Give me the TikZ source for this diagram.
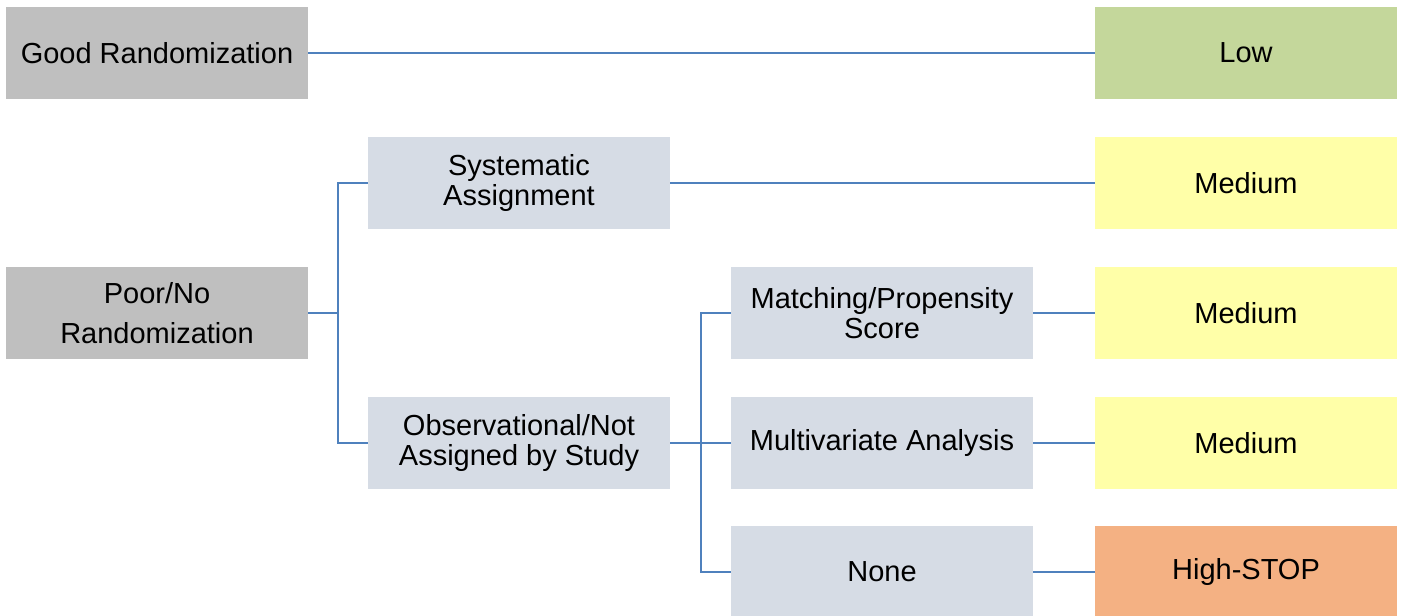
\documentclass[tikz,border=0pt]{standalone}
\usepackage{fontspec}
\setmainfont{Liberation Sans}
\definecolor{boxGray}{HTML}{BFBFBF}
\definecolor{boxBlue}{HTML}{D6DCE5}
\definecolor{boxGreen}{HTML}{C4D79B}
\definecolor{boxYellow}{HTML}{FFFFA8}
\definecolor{boxOrange}{HTML}{F4B183}
\definecolor{lineBlue}{HTML}{4F81BD}
\begin{document}
\begin{tikzpicture}
        [x=0.5pt, y=-0.5pt,
        box/.style={rectangle, minimum width=151pt, minimum height=46pt, inner sep=0pt, align=center, font=\fontsize{14.5}{15}\selectfont},
        boxGray/.style={box, fill=boxGray},
        boxBlue/.style={box, fill=boxBlue},
        link/.style={lineBlue, line width=1pt}]
        \useasboundingbox (0,0) rectangle (1401,615);
        \node[boxGray] (good) at (157,53) {Good Randomization};
        \node[boxGray] (poor) at (157,313) {Poor/No\\[5pt]Randomization};
        \node[boxBlue] (sys) at (519,183) {Systematic\\Assignment};
        \node[boxBlue] (obs) at (519,443) {Observational/Not\\Assigned by Study};
        \node[boxBlue] (match) at (882,313) {Matching/Propensity\\Score};
        \node[boxBlue] (multi) at (882,443) {Multivariate Analysis};
        \node[boxBlue] (none) at (882,572) {None};
        \node[box, fill=boxGreen] (low) at (1246,53) {Low};
        \node[box, fill=boxYellow] (med1) at (1246,183) {Medium};
        \node[box, fill=boxYellow] (med2) at (1246,313) {Medium};
        \node[box, fill=boxYellow] (med3) at (1246,443) {Medium};
        \node[box, fill=boxOrange] (high) at (1246,572) {High-STOP};
        \coordinate (j1) at (338,313);
        \coordinate (j2) at (701,443);

        \draw[link] (good) -- (low);
        \draw[link] (poor) -- (j1) |- (sys);
        \draw[link] (j1) |- (obs);
        \draw[link] (sys) -- (med1);
        \draw[link] (obs) -- (j2) |- (match);
        \draw[link] (j2) -- (multi);
        \draw[link] (j2) |- (none);
        \draw[link] (match) -- (med2);
        \draw[link] (multi) -- (med3);
        \draw[link] (none) -- (high);

    \end{tikzpicture}
\end{document}
